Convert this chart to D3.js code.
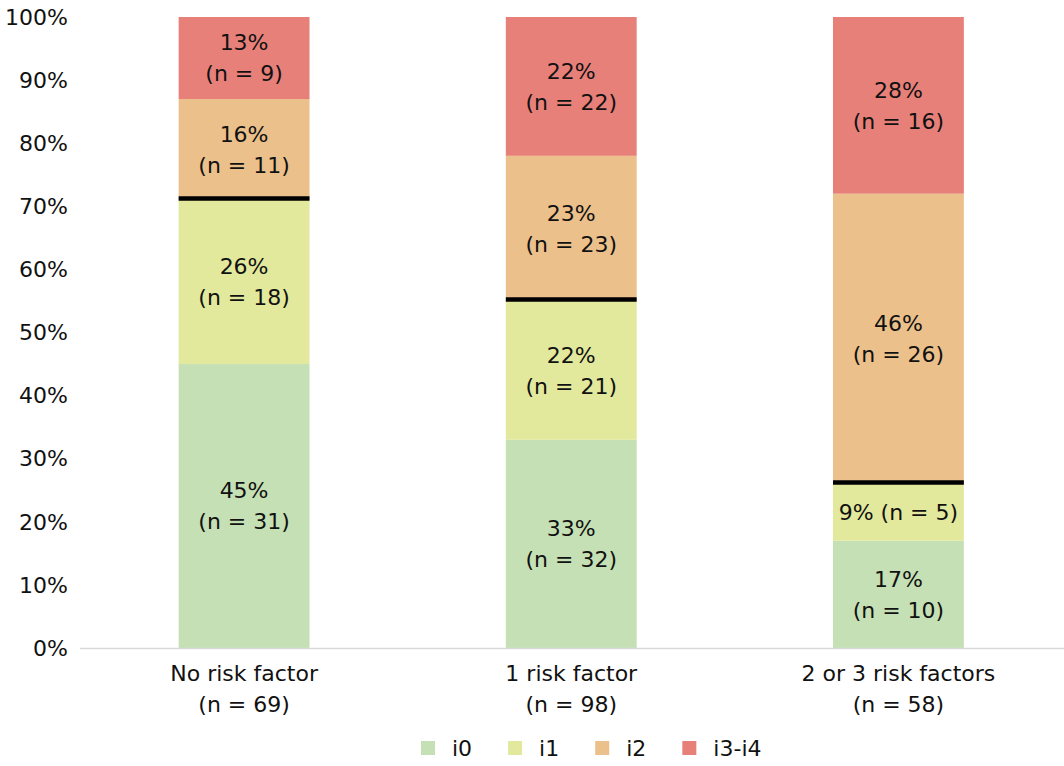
<!DOCTYPE html>
<html>
<head>
<meta charset="utf-8">
<script src="https://cdn.jsdelivr.net/npm/d3@7"></script>
<style>
  body { margin: 0; background: #fff; }
  svg { font-family: "DejaVu Sans", "Liberation Sans", Arial, sans-serif; }
</style>
</head>
<body>
<svg id="chart" width="1064" height="766"></svg>
<script>
// categories and their sample sizes
var categories = ['No risk factor', '1 risk factor', '2 or 3 risk factors'];
var categoryN = [69, 98, 58];

// grades (stack order, bottom to top)
var grades = ['i0', 'i1', 'i2', 'i3-i4'];
var gradeColors = ['#c5e0b4', '#e2e99c', '#ebc08b', '#e8807a'];

// percentages per grade, one value per category
var pctI0 = [45, 33, 17];
var pctI1 = [26, 22, 9];
var pctI2 = [16, 23, 46];
var pctI34 = [13, 22, 28];

// counts per grade
var nI0 = [31, 32, 10];
var nI1 = [18, 21, 5];
var nI2 = [11, 23, 26];
var nI34 = [9, 22, 16];

var yTicks = [0, 10, 20, 30, 40, 50, 60, 70, 80, 90, 100];

var pcts = [pctI0, pctI1, pctI2, pctI34];
var counts = [nI0, nI1, nI2, nI34];

var svg = d3.select('#chart');
var fontSize = 22;

var x = d3.scaleBand()
  .domain(categories)
  .range([80.5, 1062])
  .paddingInner(0.6)
  .paddingOuter(0.3);

var y = d3.scaleLinear()
  .domain([0, 100])
  .range([648, 17]);

// build stacked rows
var rows = categories.map(function(c, i) {
  var row = { cat: c };
  grades.forEach(function(g, j) { row[g] = pcts[j][i]; });
  return row;
});
var series = d3.stack().keys(grades)(rows);

// y tick labels
svg.append('g')
  .selectAll('text')
  .data(yTicks)
  .enter().append('text')
  .attr('x', 68)
  .attr('y', function(d) { return y(d); })
  .attr('dy', '0.35em')
  .attr('text-anchor', 'end')
  .attr('font-size', fontSize)
  .attr('fill', '#111')
  .text(function(d) { return d + '%'; });

// bars
var layers = svg.append('g')
  .selectAll('g')
  .data(series)
  .enter().append('g')
  .attr('fill', function(d, i) { return gradeColors[i]; });

layers.selectAll('rect')
  .data(function(d) { return d; })
  .enter().append('rect')
  .attr('x', function(d) { return x(d.data.cat); })
  .attr('width', x.bandwidth())
  .attr('y', function(d) { return y(d[1]); })
  .attr('height', function(d) { return y(d[0]) - y(d[1]); });

// x axis baseline
svg.append('line')
  .attr('x1', 80).attr('x2', 1064)
  .attr('y1', y(0) + 0.5).attr('y2', y(0) + 0.5)
  .attr('stroke', '#d9d9d9')
  .attr('stroke-width', 1.5);

// black separators between i1 and i2
svg.append('g')
  .selectAll('line')
  .data(series[1])
  .enter().append('line')
  .attr('x1', function(d) { return x(d.data.cat); })
  .attr('x2', function(d) { return x(d.data.cat) + x.bandwidth(); })
  .attr('y1', function(d) { return y(d[1]) - 1.5; })
  .attr('y2', function(d) { return y(d[1]) - 1.5; })
  .attr('stroke', '#000')
  .attr('stroke-width', 4.5);

// segment labels
series.forEach(function(s, j) {
  s.forEach(function(d, i) {
    var cx = x(d.data.cat) + x.bandwidth() / 2;
    var cy = (y(d[0]) + y(d[1])) / 2;
    var pctText = pcts[j][i] + '%';
    var nText = '(n = ' + counts[j][i] + ')';
    var t = svg.append('text')
      .attr('x', cx)
      .attr('text-anchor', 'middle')
      .attr('font-size', fontSize)
      .attr('fill', '#111');
    if (y(d[0]) - y(d[1]) < 70) {
      t.attr('y', cy).attr('dy', '0.35em').text(pctText + ' ' + nText);
    } else {
      t.append('tspan').attr('x', cx).attr('y', cy - 15.5).attr('dy', '0.35em').text(pctText);
      t.append('tspan').attr('x', cx).attr('y', cy + 15.5).attr('dy', '0.35em').text(nText);
    }
  });
});

// category labels
categories.forEach(function(c, i) {
  var cx = x(c) + x.bandwidth() / 2;
  var t = svg.append('text')
    .attr('text-anchor', 'middle')
    .attr('font-size', fontSize)
    .attr('fill', '#111');
  t.append('tspan').attr('x', cx).attr('y', 673).attr('dy', '0.35em').text(c);
  t.append('tspan').attr('x', cx).attr('y', 704).attr('dy', '0.35em').text('(n = ' + categoryN[i] + ')');
});

// legend
var legend = svg.append('g');
var lx = 421;
grades.forEach(function(g, i) {
  legend.append('rect')
    .attr('x', lx).attr('y', 741)
    .attr('width', 14).attr('height', 14)
    .attr('fill', gradeColors[i]);
  var txt = legend.append('text')
    .attr('x', lx + 31).attr('y', 748)
    .attr('dy', '0.35em')
    .attr('font-size', fontSize)
    .attr('fill', '#111')
    .text(g);
  lx = lx + 31 + txt.node().getComputedTextLength() + 36;
});
</script>
</body>
</html>
